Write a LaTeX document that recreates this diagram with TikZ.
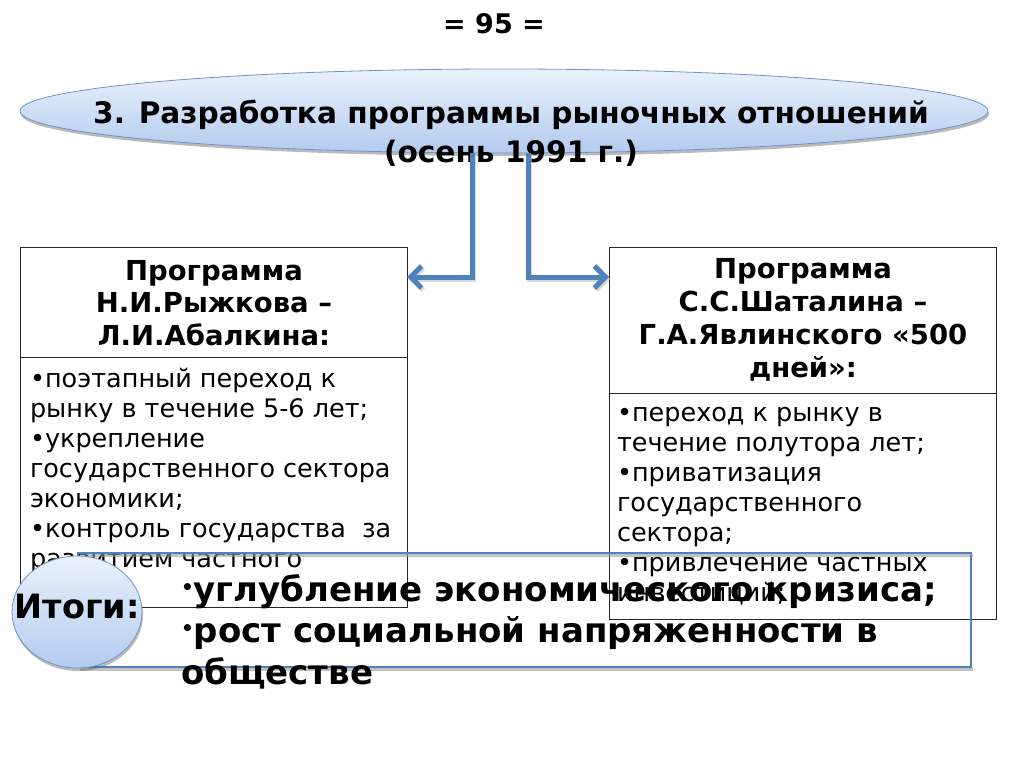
\documentclass[tikz,border=0pt]{standalone}
\usepackage{fontspec}
\setmainfont{DejaVu Sans}
\usetikzlibrary{shapes.geometric,arrows.meta,shadows}
\definecolor{lineblue}{HTML}{4F81BD}
\definecolor{elltop}{HTML}{EAF1FC}
\definecolor{ellbot}{HTML}{B3CBEE}
\definecolor{ellborder}{HTML}{6F94C9}
\newcommand{\smallbul}{\raisebox{7pt}{\fontsize{20}{20}\selectfont•}}
\begin{document}
\begin{tikzpicture}[x=1pt,y=-1pt,
  every node/.style={inner sep=0pt,outer sep=0pt},
  oval/.style={ellipse, draw=ellborder, line width=0.8pt, top color=elltop, bottom color=ellbot,
    drop shadow={shadow xshift=1pt,shadow yshift=-3pt,opacity=0.45,fill=black!60}},
  prog/.style={draw=black!85, line width=0.9pt, anchor=north west},
  hdr/.style={font=\fontsize{27.5}{32.8}\selectfont\bfseries, align=center},
  body/.style={font=\fontsize{25.5}{30}\selectfont, align=left, anchor=north west},
  conn/.style={draw=lineblue, line width=5pt, -{Straight Barb[length=11pt,width=22pt]}},
  connshadow/.style={draw=black!30, line width=5pt, opacity=0.5, -{Straight Barb[length=11pt,width=22pt]}},
  rectshadow/.style={draw=black!40, line width=2.5pt, opacity=0.6},
]
\useasboundingbox (0,0) rectangle (1024,768);
\node[font=\fontsize{27}{30}\selectfont\bfseries] (page) at (494,24) {= 95 =};
\node[oval, minimum width=968pt, minimum height=84pt] (title) at (504,111) {};
\node[font=\fontsize{29.6}{39}\selectfont\bfseries, align=center] (titletext) at (511,133)
  {3. Разработка программы рыночных отношений\\(осень 1991 г.)};

% left program
\node[prog, minimum width=387pt, minimum height=360pt] (lbox) at (20,247) {};
\node[prog, minimum width=387pt, minimum height=110pt] (lhbox) at (20,247) {};
\node[hdr] (lhead) at (214,303) {Программа\\Н.И.Рыжкова –\\Л.И.Абалкина:};
\node[body] (lbody) at (30,365) {\rule{0pt}{22pt}•поэтапный переход к\\рынку в течение 5-6 лет;\\•укрепление\\государственного сектора\\экономики;\\•контроль государства\ \ за\\развитием частного};

% right program
\node[prog, minimum width=387pt, minimum height=372pt] (rbox) at (609,247) {};
\node[prog, minimum width=387pt, minimum height=146pt] (rhbox) at (609,247) {};
\node[hdr] (rhead) at (803,320) {Программа\\С.С.Шаталина –\\Г.А.Явлинского «500\\дней»:};
\node[body] (rbody) at (617,399) {\rule{0pt}{22pt}•переход к рынку в\\течение полутора лет;\\•приватизация\\государственного\\сектора;\\•привлечение частных\\инвестиций;};

% connectors
\draw[connshadow] ([shift={(1.5pt,-2pt)}]title.south) ++(-32pt,0) |- ([shift={(1.5pt,-32pt)}]lhbox.north east);
\draw[connshadow] ([shift={(1.5pt,-2pt)}]title.south) ++(24pt,0) |- ([shift={(1.5pt,-32pt)}]rhbox.north west);
\draw[conn] ([xshift=-32pt]title.south) |- ([yshift=-30pt]lhbox.north east);
\draw[conn] ([xshift=24pt]title.south) |- ([yshift=-30pt]rhbox.north west);

% results
\node[draw=lineblue, line width=2.5pt, minimum width=893pt, minimum height=114pt, anchor=north west] (itrect) at (78,553) {};
\draw[rectshadow] ([shift={(1.5pt,-2.5pt)}]itrect.north west) -- ([shift={(1.5pt,-2.5pt)}]itrect.north east);
\draw[rectshadow] ([shift={(1.5pt,-2.5pt)}]itrect.south west) -- ([shift={(1.5pt,-2.5pt)}]itrect.south east);
\node[oval, minimum width=130pt, minimum height=112pt] (itcircle) at (77,612) {};
\node[font=\fontsize{33.5}{36}\selectfont\bfseries] (itlabel) at (77,607) {Итоги:};
\node[font=\fontsize{34}{41.5}\selectfont\bfseries, align=left, anchor=north west] (itext) at (181,569)
  {\rule{0pt}{32pt}\smallbul углубление экономического кризиса;\\\smallbul рост социальной напряженности в\\обществе};
\end{tikzpicture}
\end{document}
